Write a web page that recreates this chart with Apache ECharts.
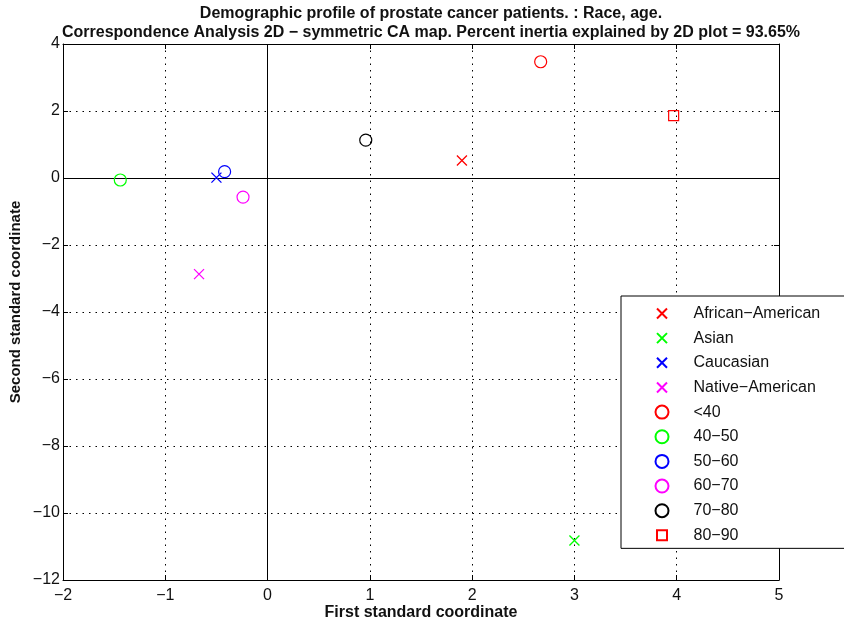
<!DOCTYPE html>
<html>
<head>
<meta charset="utf-8">
<script src="https://cdn.jsdelivr.net/npm/echarts@6/dist/echarts.min.js"></script>
<style>html,body{margin:0;padding:0;background:#fff}#c{width:844px;height:622px}</style>
</head>
<body>
<div id="c"></div>
<script>
// Row points (race)
const raceNames = ['African\u2212American', 'Asian', 'Caucasian', 'Native\u2212American'];
const raceX = [1.9, 3.0, -0.5, -0.67];
const raceY = [0.52, -10.82, 0.01, -2.87];
const raceColors = ['#ff0000', '#00ff00', '#0000ff', '#ff00ff'];
// Column points (age)
const ageNames = ['<40', '40\u221250', '50\u221260', '60\u221270', '70\u221280', '80\u221290'];
const ageX = [2.67, -1.44, -0.42, -0.24, 0.96, 3.97];
const ageY = [3.47, -0.06, 0.19, -0.57, 1.13, 1.86];
const ageColors = ['#ff0000', '#00ff00', '#0000ff', '#ff00ff', '#000000', '#ff0000'];
const ageSymbols = ['circle', 'circle', 'circle', 'circle', 'circle', 'square'];
// Axes
const xTicks = {min: -2, max: 5, interval: 1};
const yTicks = {min: -12, max: 4, interval: 2};

const CROSS = 'path://M0,0M13,13M1.5,1.5L11.5,11.5M11.5,1.5L1.5,11.5';
const SQUARE = 'path://M0,0M13,13M1.5,1.5L11.5,1.5L11.5,11.5L1.5,11.5Z';
const FONT = 'Liberation Sans, Arial, sans-serif';
const fmt = v => String(v).replace('-', '\u2212');

const series = [];
raceNames.forEach((n, i) => {
  series.push({
    name: n, type: 'scatter', symbol: CROSS, symbolSize: 13,
    itemStyle: {color: 'none', borderColor: raceColors[i], borderWidth: 1.3, opacity: 1},
    data: [[raceX[i], raceY[i]]], z: 5
  });
});
ageNames.forEach((n, i) => {
  series.push({
    name: n, type: 'scatter',
    symbol: ageSymbols[i] === 'square' ? SQUARE : 'circle',
    symbolSize: ageSymbols[i] === 'square' ? 13 : 12,
    itemStyle: {color: 'none', borderColor: ageColors[i], borderWidth: 1.2, opacity: 1},
    data: [[ageX[i], ageY[i]]], z: 5
  });
});
series[0].markLine = {
  silent: true, symbol: 'none', label: {show: false}, animation: false,
  lineStyle: {color: '#000', width: 1, type: 'solid'},
  data: [{xAxis: 0}, {yAxis: 0}]
};

const chart = echarts.init(document.getElementById('c'), null, {renderer: 'canvas'});
chart.setOption({
  animation: false,
  backgroundColor: '#fff',
  title: {
    text: 'Demographic profile of prostate cancer patients. : Race, age.\nCorrespondence Analysis 2D \u2212 symmetric CA map. Percent inertia explained by 2D plot = 93.65%',
    left: 431, top: 4, padding: 0, textAlign: 'center',
    textStyle: {fontFamily: FONT, fontSize: 16, fontWeight: 'bold', color: '#111', lineHeight: 19}
  },
  graphic: [{
    type: 'text', x: 15.5, y: 302, rotation: Math.PI / 2, silent: true,
    style: {text: 'Second standard coordinate', fontFamily: FONT, fontSize: 15, fontWeight: 'bold',
            fill: '#111', align: 'center', verticalAlign: 'middle'}
  }],
  grid: {left: 63, right: 65, top: 44, bottom: 42, outerBoundsMode: 'none', containLabel: false},
  xAxis: [{
    type: 'value', min: xTicks.min, max: xTicks.max, interval: xTicks.interval,
    name: 'First standard coordinate', nameLocation: 'middle', nameGap: 25, nameMoveOverlap: false,
    nameTextStyle: {fontFamily: FONT, fontSize: 16, fontWeight: 'bold', color: '#111'},
    axisLine: {onZero: false, lineStyle: {color: '#000', width: 1}},
    axisTick: {inside: true, length: 5, lineStyle: {color: '#000'}},
    axisLabel: {fontFamily: FONT, fontSize: 16, color: '#111', margin: 8, formatter: fmt},
    splitLine: {show: true, lineStyle: {color: '#000', type: [1.5, 5], width: 1}}
  }, {
    type: 'value', position: 'top', min: xTicks.min, max: xTicks.max, interval: xTicks.interval,
    axisLine: {onZero: false, lineStyle: {color: '#000', width: 1}},
    axisTick: {inside: true, length: 5, lineStyle: {color: '#000'}},
    axisLabel: {show: false}, splitLine: {show: false}
  }],
  yAxis: [{
    type: 'value', min: yTicks.min, max: yTicks.max, interval: yTicks.interval,
    axisLine: {onZero: false, lineStyle: {color: '#000', width: 1}},
    axisTick: {inside: true, length: 5, lineStyle: {color: '#000'}},
    axisLabel: {fontFamily: FONT, fontSize: 16, color: '#111', margin: 3, formatter: fmt},
    splitLine: {show: true, lineStyle: {color: '#000', type: [1.5, 5], width: 1}}
  }, {
    type: 'value', position: 'right', min: yTicks.min, max: yTicks.max, interval: yTicks.interval,
    axisLine: {onZero: false, lineStyle: {color: '#000', width: 1}},
    axisTick: {inside: true, length: 5, lineStyle: {color: '#000'}},
    axisLabel: {show: false}, splitLine: {show: false}
  }],
  legend: {
    orient: 'vertical', left: 621, top: 296,
    padding: [8.5, 80, 4, 32],
    itemWidth: 13, itemHeight: 13, itemGap: 6.65,
    backgroundColor: '#fff', borderColor: '#000', borderWidth: 1,
    selectedMode: false,
    data: raceNames.concat(ageNames),
    textStyle: {fontFamily: FONT, fontSize: 16, lineHeight: 16, color: '#111', padding: [0, 0, 0, 20]}
  },
  series: series
});
</script>
</body>
</html>
